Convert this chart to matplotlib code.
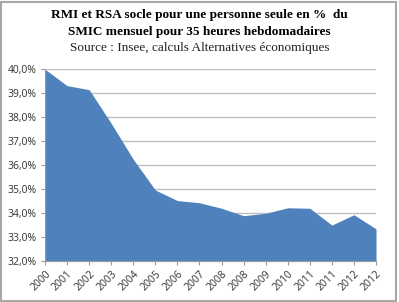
import matplotlib
matplotlib.use("Agg")
import matplotlib.pyplot as plt
from matplotlib.patches import Rectangle
from matplotlib.ticker import FuncFormatter

years = ["2000", "2001", "2002", "2003", "2004", "2005", "2006", "2007",
         "2008", "2008", "2009", "2010", "2011", "2011", "2012", "2012"]
values = [40.0, 39.32, 39.15, 37.75, 36.25, 34.97, 34.53, 34.44,
          34.21, 33.90, 34.00, 34.23, 34.21, 33.51, 33.94, 33.35]
yticks = [32, 33, 34, 35, 36, 37, 38, 39, 40]

fig = plt.figure(figsize=(3.99, 3.02), dpi=100)
fig.patch.set_facecolor("white")
ax = fig.add_axes([45/399, 1 - 261.3/302, (376 - 45)/399, (261.3 - 69.3)/302])

x = list(range(len(values)))
ax.fill_between(x, 32, values, color="#4F81BD", linewidth=0, zorder=2)
ax.set_xlim(0, len(values) - 1)
ax.set_ylim(32, 40)
ax.set_yticks(yticks)
ax.yaxis.set_major_formatter(FuncFormatter(lambda v, p: f"{v:.1f}%".replace(".", ",")))
ax.set_xticks(x)
ax.set_xticklabels(years, rotation=45, ha="right", rotation_mode="anchor")
ax.grid(axis="y", color="#BEBEBE", linewidth=1, zorder=1)
ax.set_axisbelow(True)
for s in ["top", "right"]:
    ax.spines[s].set_visible(False)
for s in ["left", "bottom"]:
    ax.spines[s].set_color("#9A9A9A")
    ax.spines[s].set_linewidth(0.8)
ax.tick_params(axis="both", colors="#9A9A9A", labelcolor="#333333", labelsize=8,
               length=3, width=0.8)
ax.tick_params(axis="y", pad=3)
ax.tick_params(axis="x", pad=2)
for lab in ax.get_xticklabels() + ax.get_yticklabels():
    lab.set_family("Open Sans")
    lab.set_fontsize(7.5)

fig.text(0.5, 1 - 15/302, "RMI et RSA socle pour une personne seule en %  du",
         ha="center", va="center", family="Liberation Serif", weight="bold", fontsize=9.5)
fig.text(0.5, 1 - 32/302, "SMIC mensuel pour 35 heures hebdomadaires",
         ha="center", va="center", family="Liberation Serif", weight="bold", fontsize=9.5)
fig.text(0.5, 1 - 48/302, "Source : Insee, calculs Alternatives économiques",
         ha="center", va="center", family="Liberation Serif", fontsize=9.5, color="#222222")

fig.patches.append(Rectangle((1/399, 1/302), 395/399, 299/302, transform=fig.transFigure,
                             fill=False, edgecolor="#A8A8A8", linewidth=1.5))

fig.savefig("out.png", dpi=100)
